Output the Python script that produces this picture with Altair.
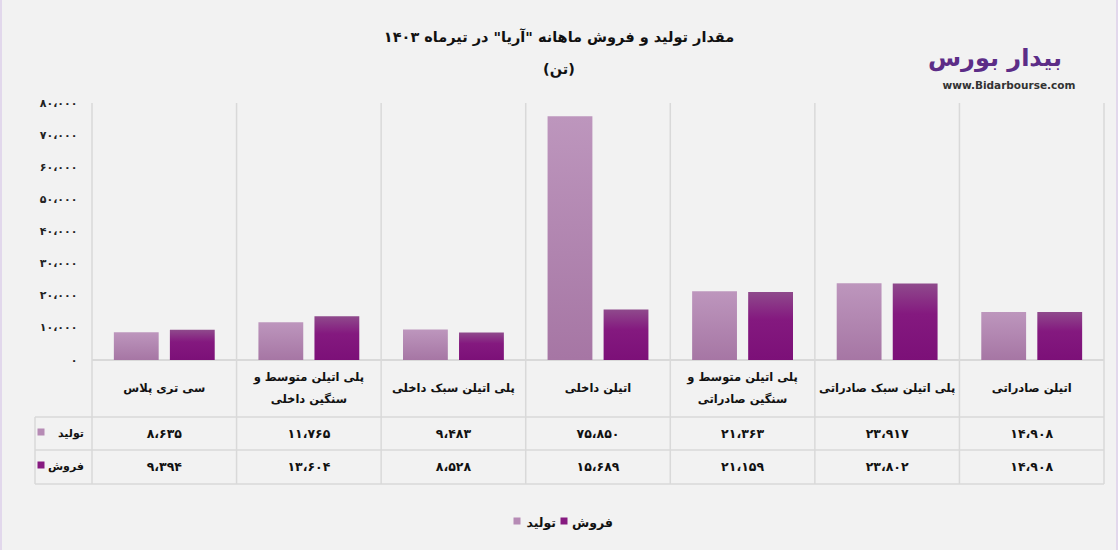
import altair as alt
import pandas as pd

# ---------------- data ----------------
categories = ["c1", "c2", "c3", "c4", "c5", "c6", "c7"]
category_labels = [
    "سی تری پلاس",
    "پلی اتیلن متوسط و\nسنگین داخلی",
    "پلی اتیلن سبک داخلی",
    "اتیلن داخلی",
    "پلی اتیلن متوسط و\nسنگین صادراتی",
    "پلی اتیلن سبک صادراتی",
    "اتیلن صادراتی",
]
production = [8635, 11765, 9483, 75850, 21363, 23917, 14908]
sales = [9394, 13604, 8528, 15689, 21159, 23802, 14908]
series_names = ["تولید", "فروش"]
y_ticks = [0, 10000, 20000, 30000, 40000, 50000, 60000, 70000, 80000]
title_line1 = 'مقدار تولید و فروش ماهانه "آریا" در تیرماه ۱۴۰۳'
title_line2 = "(تن)"

FA_DIGITS = "۰۱۲۳۴۵۶۷۸۹"


def fa(n):
    s = format(n, ",")
    s = "".join(FA_DIGITS[int(ch)] if ch.isdigit() else ch for ch in s)
    return s.replace(",", "،")


rows = []
for c, lab, p, s in zip(categories, category_labels, production, sales):
    rows.append({"cat": c, "label": lab, "series": series_names[0], "value": p, "txt": fa(p)})
    rows.append({"cat": c, "label": lab, "series": series_names[1], "value": s, "txt": fa(s)})
df = pd.DataFrame(rows)

# ---------------- geometry ----------------
W, H = 1012, 257
FONT = "DejaVu Sans"
GRID = "#d9d9d9"
LIGHT = "#b68bb5"
DARK = "#861a80"


def xcat(**kw):
    return alt.X("cat:N", sort=categories, axis=None,
                 scale=alt.Scale(domain=categories, paddingInner=0, paddingOuter=0), **kw)


xoff_enc = alt.XOffset("series:N", scale=alt.Scale(domain=series_names, paddingInner=0.2, paddingOuter=0.39))

label_expr = "format(datum.value, ',')"
for d in range(10):
    label_expr = f"replace({label_expr}, regexp('{d}', 'g'), '{FA_DIGITS[d]}')"
label_expr = f"replace({label_expr}, regexp(',', 'g'), '،')"

y_enc = alt.Y("value:Q", title=None,
              scale=alt.Scale(domain=[0, 80000], nice=False, zero=True),
              axis=alt.Axis(values=y_ticks, labelExpr=label_expr, domain=False, ticks=False,
                            grid=False, labelPadding=15, labelFont=FONT, labelFontWeight="bold",
                            labelFontSize=11, labelColor="#222222"))

base = alt.Chart(df)

grad_light = alt.Gradient(gradient="linear", x1=0, x2=0, y1=0, y2=1,
                          stops=[alt.GradientStop(color="#bd96bd", offset=0),
                                 alt.GradientStop(color="#a676a4", offset=1)])
grad_dark = alt.Gradient(gradient="linear", x1=0, x2=0, y1=0, y2=1,
                         stops=[alt.GradientStop(color="#8f4a8c", offset=0),
                                alt.GradientStop(color="#84197f", offset=0.4),
                                alt.GradientStop(color="#7c1078", offset=1)])

bars_p = base.transform_filter(alt.datum.series == series_names[0]).mark_bar(
    color=grad_light).encode(x=xcat(), xOffset=xoff_enc, y=y_enc)
bars_s = base.transform_filter(alt.datum.series == series_names[1]).mark_bar(
    color=grad_dark).encode(x=xcat(), xOffset=xoff_enc, y=y_enc)

one = pd.DataFrame({"k": [0]})
cat_df = pd.DataFrame({"cat": categories, "label": category_labels})

# vertical separators (band starts) + right edge
vlines = alt.Chart(cat_df).mark_rule(color=GRID, strokeWidth=1.5).encode(
    x=xcat(bandPosition=0), y=alt.value(0), y2=alt.value(381))
vline_right = alt.Chart(one).mark_rule(color=GRID, strokeWidth=1.5).encode(
    x=alt.value(W), y=alt.value(0), y2=alt.value(381))

# horizontal table lines
hline_base = alt.Chart(one).mark_rule(color=GRID, strokeWidth=2).encode(
    x=alt.value(0), x2=alt.value(W), y=alt.value(H))
hlines = [alt.Chart(one).mark_rule(color=GRID, strokeWidth=1.5).encode(
    x=alt.value(-57), x2=alt.value(W), y=alt.value(yy)) for yy in (314, 347, 381)]
vline_left = alt.Chart(one).mark_rule(color=GRID, strokeWidth=1.5).encode(
    x=alt.value(-57), y=alt.value(314), y2=alt.value(381))

# header labels
hdr_style = dict(font=FONT, fontWeight="bold", fontSize=11.5, lineBreak="\n", lineHeight=22,
                 align="center", baseline="middle", color="#111111")
header_one = alt.Chart(cat_df).transform_filter(
    "indexof(datum.label, '\\n') < 0").mark_text(**hdr_style).encode(
    x=xcat(), y=alt.value(286), text="label:N")
header_two = alt.Chart(cat_df).transform_filter(
    "indexof(datum.label, '\\n') >= 0").mark_text(**hdr_style).encode(
    x=xcat(), y=alt.value(275), text="label:N")

row_p = base.transform_filter(alt.datum.series == series_names[0]).mark_text(
    font=FONT, fontWeight="bold", fontSize=12.5, color="#111111", baseline="middle").encode(
    x=xcat(), y=alt.value(331), text="txt:N")
row_s = base.transform_filter(alt.datum.series == series_names[1]).mark_text(
    font=FONT, fontWeight="bold", fontSize=12.5, color="#111111", baseline="middle").encode(
    x=xcat(), y=alt.value(364), text="txt:N")


def txt(text, x, y, size=12.5, align="center", color="#111111", weight="bold"):
    return alt.Chart(one).mark_text(text=text, font=FONT, fontWeight=weight, fontSize=size,
                                    align=align, baseline="middle", color=color).encode(
        x=alt.value(x), y=alt.value(y))


def sq(x, y, color, size=8):
    return alt.Chart(one).mark_square(size=size * size, color=color, opacity=1).encode(
        x=alt.value(x), y=alt.value(y))


row_labels = [
    sq(-51, 329, LIGHT, 7), txt(series_names[0], -8, 331, size=11, align="right"),
    sq(-51, 362, DARK, 7), txt(series_names[1], -8, 364, size=11, align="right"),
]

legend = [
    sq(425, 418, LIGHT, 7), txt(series_names[0], 464, 420, align="right"),
    sq(472, 418, DARK, 7), txt(series_names[1], 521, 420, align="right"),
]

titles = [
    txt(title_line1, 467, -65, size=14.5),
    txt(title_line2, 467, -33, size=14.5),
]

logo = [
    txt("بیدار بورس", 903, -44, size=24, color="#5c2d87", align="center"),
    txt("www.Bidarbourse.com", 917, -17, size=10.5, color="#333333", align="center"),
]

borders = [
    alt.Chart(one).mark_rule(color="#e2d8ec", strokeWidth=2).encode(
        x=alt.value(-91), y=alt.value(-103), y2=alt.value(447)),
    alt.Chart(one).mark_rule(color="#e2d8ec", strokeWidth=2).encode(
        x=alt.value(1025), y=alt.value(-103), y2=alt.value(447)),
]

chart = alt.layer(
    vlines, vline_right, *hlines, vline_left, hline_base,
    bars_p, bars_s, header_one, header_two, row_p, row_s,
    *row_labels, *legend, *titles, *logo, *borders
).properties(
    width=W, height=H,
    autosize=alt.AutoSizeParams(type="none"),
    padding={"left": 92, "top": 103, "right": 14, "bottom": 190},
    background="#f2f2f2",
).configure_view(stroke=None)

chart.save("out.html", embed_options={"renderer": "svg", "actions": False})
